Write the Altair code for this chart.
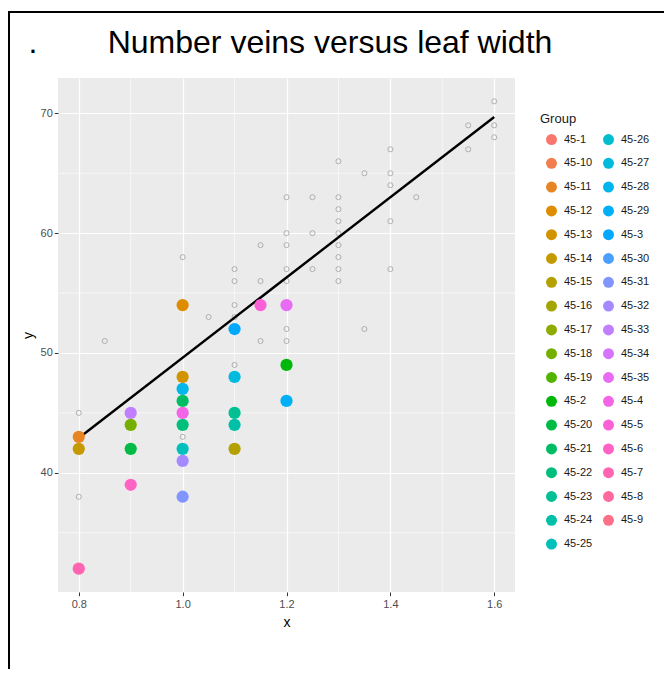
import math
import altair as alt
import pandas as pd

# ---------------- data ----------------
gray_x = [1.0, 1.2, 1.2, 1.15, 1.2, 1.1, 1.1, 1.15, 1.2, 1.2, 1.1, 1.05, 1.1, 1.2,
          1.6, 1.55, 1.6, 1.6, 1.55, 1.4, 1.3, 1.35, 1.4, 1.4, 1.25, 1.3, 1.45, 1.3,
          1.3, 1.4, 1.25, 1.3, 1.3, 1.3, 1.25, 1.3, 1.4, 1.3, 1.35, 0.85, 1.15, 1.2,
          1.1, 0.8, 1.0, 0.8]
gray_y = [58, 63, 60, 59, 59, 57, 56, 56, 57, 56, 54, 53, 53, 52,
          71, 69, 69, 68, 67, 67, 66, 65, 65, 64, 63, 63, 63, 62,
          61, 61, 60, 60, 59, 58, 57, 57, 57, 56, 52, 51, 51, 51,
          49, 45, 43, 38]

grp_x = [0.8, 0.8, 0.8, 0.9, 0.9, 0.9, 0.9, 1.0, 1.0, 1.0, 1.0, 1.0, 1.0, 1.0, 1.0,
         1.0, 1.1, 1.1, 1.1, 1.1, 1.1, 1.15, 1.2, 1.2, 1.2]
grp_y = [32, 42, 43, 39, 42, 44, 45, 38, 41, 42, 44, 45, 46, 47, 48,
         54, 42, 44, 45, 48, 52, 54, 46, 49, 54]
grp_id = ["45-7", "45-14", "45-11", "45-6", "45-20", "45-18", "45-33", "45-31", "45-32",
          "45-25", "45-22", "45-4", "45-21", "45-28", "45-13", "45-12", "45-15", "45-24",
          "45-23", "45-27", "45-3", "45-5", "45-29", "45-2", "45-35"]

fit_x = [0.8, 1.6]
fit_y = [42.9, 69.7]

groups = sorted(["45-%d" % i for i in range(1, 36)])  # ggplot factor (alphabetical) order

x_ticks = [0.8, 1.0, 1.2, 1.4, 1.6]
y_ticks = [40, 50, 60, 70]
x_minor = [0.9, 1.1, 1.3, 1.5]
y_minor = [35, 45, 55, 65]


# ---------------- ggplot hue palette (style) ----------------
def _gtrans(u):
    return 1.055 * u ** (1 / 2.4) - 0.055 if u > 0.00304 else 12.92 * u


def hcl_hex(h, c=100.0, l=65.0):
    wy, wu, wv = 100.0, 0.1978398, 0.4683363
    hr = math.radians(h)
    U, V = c * math.cos(hr), c * math.sin(hr)
    Y = wy * ((l + 16) / 116) ** 3 if l > 7.999592 else wy * l / 903.3
    u = U / (13 * l) + wu
    v = V / (13 * l) + wv
    X = 9.0 * Y * u / (4 * v)
    Z = -X / 3 - 5 * Y + 3 * Y / v
    r = _gtrans((3.240479 * X - 1.537150 * Y - 0.498535 * Z) / wy)
    g = _gtrans((-0.969256 * X + 1.875992 * Y + 0.041556 * Z) / wy)
    b = _gtrans((0.055648 * X - 0.204043 * Y + 1.057311 * Z) / wy)
    return "#" + "".join("%02X" % int(round(max(0, min(1, t)) * 255)) for t in (r, g, b))


n = len(groups)
palette = [hcl_hex(15 + 360 * i / n) for i in range(n)]

gray_df = pd.DataFrame({"x": gray_x, "y": gray_y})
grp_df = pd.DataFrame({"x": grp_x, "y": grp_y, "Group": grp_id})
fit_df = pd.DataFrame({"x": fit_x, "y": fit_y})
xminor_df = pd.DataFrame({"x": x_minor})
yminor_df = pd.DataFrame({"y": y_minor})
one_df = pd.DataFrame({"a": [0]})

xscale = alt.Scale(domain=[0.76, 1.64], nice=False, zero=False)
yscale = alt.Scale(domain=[30.05, 72.95], nice=False, zero=False)
xaxis = alt.Axis(values=x_ticks, format=".1f", title="x")
yaxis = alt.Axis(values=y_ticks, format="d", title="y")


def X(field="x"):
    return alt.X(field + ":Q", scale=xscale, axis=xaxis)


def Y(field="y"):
    return alt.Y(field + ":Q", scale=yscale, axis=yaxis)


minor_v = alt.Chart(xminor_df).mark_rule(color="white", strokeWidth=0.6).encode(x=X())
minor_h = alt.Chart(yminor_df).mark_rule(color="white", strokeWidth=0.6).encode(y=Y())

gray = alt.Chart(gray_df).mark_point(
    shape="circle", filled=False, color="#A8A8A8", size=26, strokeWidth=0.9, opacity=1
).encode(x=X(), y=Y())

fit = alt.Chart(fit_df).mark_line(color="black", strokeWidth=2.4).encode(x=X(), y=Y())

pts = alt.Chart(grp_df).mark_circle(size=150, opacity=1).encode(
    x=X(),
    y=Y(),
    color=alt.Color(
        "Group:N",
        scale=alt.Scale(domain=groups, range=palette),
        legend=alt.Legend(
            title="Group",
            orient="none",
            legendX=482,
            legendY=35,
            columns=2,
            symbolLimit=0,
            symbolType="circle",
            symbolSize=120,
            symbolStrokeWidth=0,
            symbolOpacity=1,
            symbolOffset=6,
            labelFontSize=11,
            labelFont="Liberation Sans",
            labelColor="#1A1A1A",
            titleFontSize=13,
            titleFont="Liberation Sans",
            titleFontWeight="normal",
            titleColor="#1A1A1A",
            titlePadding=8,
            rowPadding=11.8,
            columnPadding=4,
            labelOffset=7,
        ),
    ),
)

frame = alt.Chart(one_df).mark_rect(
    fill=None, fillOpacity=0, stroke="black", strokeWidth=2
).encode(x=alt.value(-49), x2=alt.value(800), y=alt.value(-66), y2=alt.value(800))

title = alt.Chart(one_df).mark_text(
    text="Number veins versus leaf width", font="Liberation Sans", fontSize=32,
    color="black", align="center", baseline="alphabetic"
).encode(x=alt.value(272), y=alt.value(-25))

dot = alt.Chart(one_df).mark_text(
    text=".", font="Liberation Sans", fontSize=32, color="black",
    align="center", baseline="alphabetic"
).encode(x=alt.value(-25), y=alt.value(-25))

chart = alt.layer(minor_v, minor_h, gray, fit, pts, frame, title, dot).properties(
    width=457,
    height=514,
    autosize=alt.AutoSizeParams(type="none"),
    padding={"left": 50, "top": 70, "right": 149, "bottom": 77},
).configure_view(
    fill="#EBEBEB", stroke=None
).configure_axis(
    grid=True, gridColor="white", gridWidth=1.2, domain=False,
    tickColor="#333333", tickSize=3.7, tickWidth=1,
    labelColor="#4D4D4D", labelFontSize=11, labelFont="Liberation Sans",
    titleFont="Liberation Sans", titleFontSize=14, titleFontWeight="normal", titleColor="black",
).configure_axisX(
    labelPadding=3, titlePadding=6
).configure_axisY(
    labelPadding=2, titlePadding=5
)

chart.save("out.html", embed_options={"renderer": "svg", "actions": False})
